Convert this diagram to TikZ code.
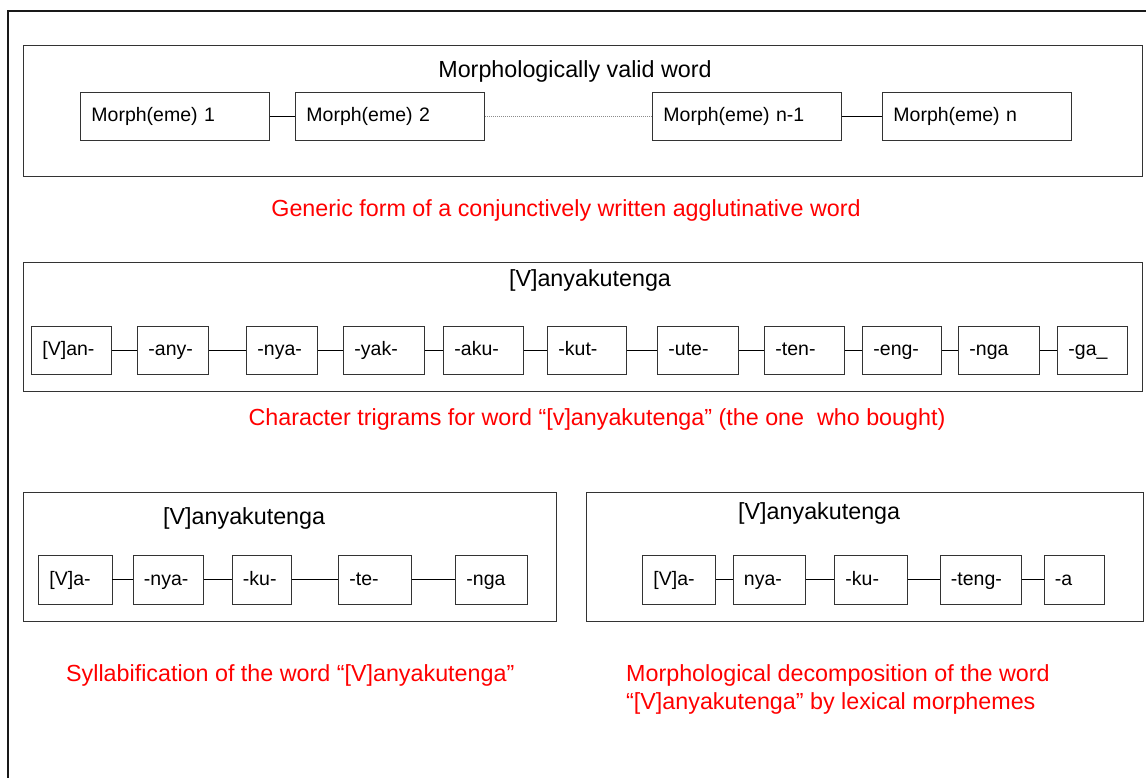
\documentclass[tikz,border=0pt]{standalone}
\usepackage{fontspec}
\setmainfont{Liberation Sans}
\definecolor{capred}{RGB}{255,0,0}
\definecolor{edge}{RGB}{51,51,51}
\newcommand\cellfont{\fontsize{19.5}{23}\selectfont}
\newcommand\headfont{\fontsize{23.3}{28}\selectfont}
\begin{document}
\begin{tikzpicture}[x=1pt,y=-1pt,
  panel/.style={draw=edge, line width=1.1pt, inner sep=0pt, anchor=north west},
  cell/.style={draw=edge, line width=0.9pt, minimum height=48pt, inner xsep=11pt,
    inner ysep=0pt, align=left, text width=#1, text height=15pt, text depth=4pt,
    font=\cellfont, anchor=west},
  link/.style={draw=black, line width=0.9pt},
  gap/.style={draw=black!45, line width=0.6pt, dash pattern=on 1pt off 1pt},
  heading/.style={font=\headfont, inner sep=0pt, text height=17pt, text depth=5pt},
  caption/.style={font=\headfont, text=capred, inner sep=0pt}]

\useasboundingbox (0,0) rectangle (1146,778);

% outer frame, running off the right and bottom edges
\begin{scope}
  \clip (0,0) rectangle (1146,778);
  \draw[draw=black!90, line width=1.4pt] (8,790) -- (8,11) -- (1160,11);
\end{scope}

% ---------- generic form ----------
\node[panel, minimum width=1119pt, minimum height=131pt] (p1) at (23,45) {};
\node[heading] (h1) at (575,72) {Morphologically valid word};
\node[cell=167pt] (m1) at (80,116) {Morph(eme) 1};
\node[cell=167pt] (m2) at (295,116) {Morph(eme) 2};
\node[cell=167pt] (m3) at (652,116) {Morph(eme) n-1};
\node[cell=167pt] (m4) at (882,116) {Morph(eme) n};
\draw[link] (m1.east) -- (m2.west);
\draw[gap] (m2.east) -- (m3.west);
\draw[link] (m3.east) -- (m4.west);
\node[caption] (c1) at (566,210) {Generic form of a conjunctively written agglutinative word};

% ---------- character trigrams ----------
\node[panel, minimum width=1119pt, minimum height=129pt] (p2) at (23,262) {};
\node[heading] (h2) at (590,280) {[V]anyakutenga};
\node[cell=58pt] (t1) at (31,350) {[V]an-};
\node[cell=49pt] (t2) at (137,350) {-any-};
\node[cell=49pt] (t3) at (246,350) {-nya-};
\node[cell=59pt] (t4) at (343,350) {-yak-};
\node[cell=58pt] (t5) at (443,350) {-aku-};
\node[cell=57pt] (t6) at (547,350) {-kut-};
\node[cell=59pt] (t7) at (657,350) {-ute-};
\node[cell=58pt] (t8) at (764,350) {-ten-};
\node[cell=57pt] (t9) at (862,350) {-eng-};
\node[cell=59pt] (t10) at (958,350) {-nga};
\node[cell=48pt] (t11) at (1057,350) {-ga\_};
\foreach \a/\b in {t1/t2,t2/t3,t3/t4,t4/t5,t5/t6,t6/t7,t7/t8,t8/t9,t9/t10,t10/t11}
  \draw[link] (\a.east) -- (\b.west);
\node[caption] (c2) at (597,419) {Character trigrams for word “[v]anyakutenga” (the one\ \ who bought)};

% ---------- syllabification ----------
\node[panel, minimum width=532.5pt, minimum height=129pt] (p3) at (23,492) {};
\node[heading, anchor=west] (h3) at (163,518) {[V]anyakutenga};
\node[cell=51.5pt, minimum height=49pt] (s1) at (38,579.5) {[V]a-};
\node[cell=48.5pt, minimum height=49pt] (s2) at (132.5,579.5) {-nya-};
\node[cell=37.5pt, minimum height=49pt] (s3) at (231.5,579.5) {-ku-};
\node[cell=51pt, minimum height=49pt] (s4) at (338,579.5) {-te-};
\node[cell=50pt, minimum height=49pt] (s5) at (455,579.5) {-nga};
\foreach \a/\b in {s1/s2,s2/s3,s3/s4,s4/s5}
  \draw[link] (\a.east) -- (\b.west);
\node[caption, anchor=west] (c3) at (66,675) {Syllabification of the word “[V]anyakutenga”};

% ---------- morphological decomposition ----------
\node[panel, minimum width=556.5pt, minimum height=129pt] (p4) at (586,492) {};
\node[heading, anchor=west] (h4) at (738,513) {[V]anyakutenga};
\node[cell=51pt, minimum height=49pt] (d1) at (642,579.5) {[V]a-};
\node[cell=50.5pt, minimum height=49pt] (d2) at (732.5,579.5) {nya-};
\node[cell=51pt, minimum height=49pt] (d3) at (834,579.5) {-ku-};
\node[cell=59.5pt, minimum height=49pt] (d4) at (939.5,579.5) {-teng-};
\node[cell=38.5pt, minimum height=49pt] (d5) at (1043.5,579.5) {-a};
\foreach \a/\b in {d1/d2,d2/d3,d3/d4,d4/d5}
  \draw[link] (\a.east) -- (\b.west);
\node[caption, anchor=north west, align=left] (c4) at (626,664)
  {Morphological decomposition of the word\\“[V]anyakutenga” by lexical morphemes};
\end{tikzpicture}
\end{document}
